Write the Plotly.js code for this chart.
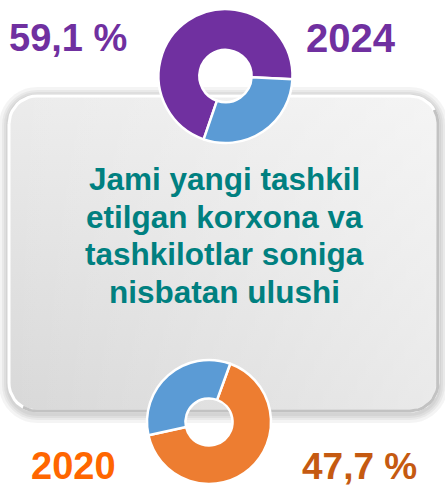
<!DOCTYPE html>
<html>
<head>
<meta charset="utf-8">
<script src="https://cdn.plot.ly/plotly-3.0.1.min.js"></script>
<style>html,body{margin:0;padding:0;background:#fff;}#chart{width:445px;height:489px;}</style>
</head>
<body>
<div id="chart"></div>
<script>
// ---- data ----
var years = ['2024', '2020'];
var shareLabels = ['59,1 %', '47,7 %'];
var sliceNames = ['ulush', 'boshqa'];
var donut2024 = [70.5, 29.5];
var donut2020 = [66, 34];
var titleLines = ['Jami yangi tashkil', 'etilgan korxona va', 'tashkilotlar soniga', 'nisbatan ulushi'];

// ---- geometry / style ----
var W = 445, H = 489;
var box = {x0: 9, x1: 438, y0: 96, y1: 411, r: 28};

function roundRect(x0, y0, x1, y1, r) {
  var xs = [], ys = [];
  function arc(cx, cy, a0, a1) {
    for (var i = 0; i <= 10; i++) {
      var a = (a0 + (a1 - a0) * i / 10) * Math.PI / 180;
      xs.push(cx + r * Math.cos(a));
      ys.push(cy + r * Math.sin(a));
    }
  }
  arc(x0 + r, y0 + r, 180, 270);
  arc(x1 - r, y0 + r, 270, 360);
  arc(x1 - r, y1 - r, 0, 90);
  arc(x0 + r, y1 - r, 90, 180);
  xs.push(xs[0]); ys.push(ys[0]);
  return {x: xs, y: ys};
}
function arcPts(cx, cy, r, a0, a1) {
  var xs = [], ys = [];
  for (var i = 0; i <= 10; i++) {
    var a = (a0 + (a1 - a0) * i / 10) * Math.PI / 180;
    xs.push(cx + r * Math.cos(a)); ys.push(cy + r * Math.sin(a));
  }
  return {x: xs, y: ys};
}

var traces = [];
// shadow
[10, 7, 5, 3].forEach(function (g) {
  var p = roundRect(box.x0 - g, box.y0 - g + 1, box.x1 + g, box.y1 + g + 2, box.r + g);
  traces.push({type: 'scatter', mode: 'none', x: p.x, y: p.y, fill: 'toself',
    fillcolor: 'rgba(0,0,0,0.045)', hoverinfo: 'skip', showlegend: false});
});
// box body
var b = roundRect(box.x0, box.y0, box.x1, box.y1, box.r);
traces.push({type: 'scatter', mode: 'lines', x: b.x, y: b.y, fill: 'toself',
  line: {color: '#ffffff', width: 3},
  fillgradient: {type: 'vertical', colorscale: [[0, '#d8d8d8'], [1, '#ececec']]},
  hoverinfo: 'skip', showlegend: false});
traces.push({type: 'scatter', mode: 'none', x: b.x, y: b.y, fill: 'toself',
  fillgradient: {type: 'horizontal', colorscale: [[0, 'rgba(255,255,255,0)'], [1, 'rgba(255,255,255,0.45)']]},
  hoverinfo: 'skip', showlegend: false});
// darker bottom/right border
var seg1 = arcPts(box.x1 - box.r, box.y0 + box.r, box.r, 330, 360);
var seg2 = arcPts(box.x1 - box.r, box.y1 - box.r, box.r, 0, 90);
var seg3 = arcPts(box.x0 + box.r, box.y1 - box.r, box.r, 90, 120);
traces.push({type: 'scatter', mode: 'lines',
  x: seg1.x.concat(seg2.x, seg3.x), y: seg1.y.concat(seg2.y, seg3.y),
  line: {color: '#c2c2c2', width: 3}, hoverinfo: 'skip', showlegend: false});

// donuts
var purple = '#7030A0', blue = '#5B9BD5', orange = '#ED7D31';
function dom(cx, cy, r) {
  return {x: [(cx - r) / W, (cx + r) / W], y: [(H - cy - r) / H, (H - cy + r) / H]};
}
traces.push({type: 'pie', labels: sliceNames, values: donut2024, hole: 0.39, sort: false,
  direction: 'clockwise', rotation: 199, textinfo: 'none', hoverinfo: 'none',
  marker: {colors: [purple, blue], line: {color: '#ffffff', width: 2.5}},
  domain: dom(225.5, 76, 67), showlegend: false});
traces.push({type: 'pie', labels: sliceNames, values: donut2020, hole: 0.38, sort: false,
  direction: 'clockwise', rotation: 20, textinfo: 'none', hoverinfo: 'none',
  marker: {colors: [orange, blue], line: {color: '#ffffff', width: 2.5}},
  domain: dom(209, 422, 62), showlegend: false});

var bold = 'Liberation Sans, Arial, sans-serif';
function ann(text, x, y, size, color) {
  return {text: '<b>' + text + '</b>', x: x, y: y, xref: 'x', yref: 'y', showarrow: false,
    xanchor: 'center', yanchor: 'middle', font: {family: bold, size: size, color: color}};
}
var annotations = [
  ann(shareLabels[0], 68, 37.5, 38, purple),
  ann(years[0], 350.5, 38, 40, purple),
  ann(years[1], 73, 466, 38, '#FF6600'),
  ann(shareLabels[1], 359.5, 466, 37, '#C55A11')
];
var lineY = [179, 216.5, 254, 292];
titleLines.forEach(function (t, i) {
  annotations.push(ann(t, 224.5, lineY[i], 31.5, '#008080'));
});

var layout = {
  width: W, height: H, margin: {l: 0, r: 0, t: 0, b: 0},
  paper_bgcolor: '#ffffff', plot_bgcolor: 'rgba(0,0,0,0)', showlegend: false,
  xaxis: {range: [0, W], visible: false, fixedrange: true, domain: [0, 1]},
  yaxis: {range: [H, 0], visible: false, fixedrange: true, domain: [0, 1]},
  annotations: annotations
};
Plotly.newPlot('chart', traces, layout, {staticPlot: true, displayModeBar: false});
</script>
</body>
</html>
